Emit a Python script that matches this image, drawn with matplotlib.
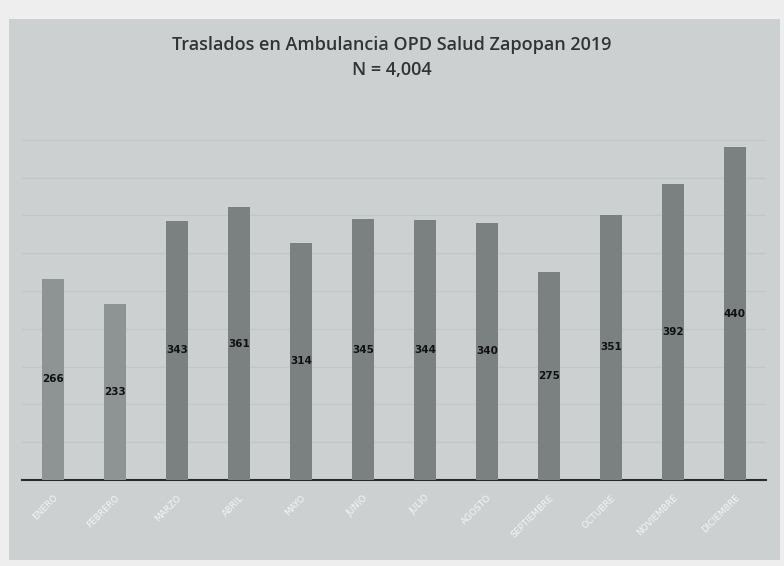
import matplotlib.pyplot as plt
from matplotlib.patches import Rectangle
import numpy as np

meses = ['ENERO', 'FEBRERO', 'MARZO', 'ABRIL', 'MAYO', 'JUNIO', 'JULIO',
         'AGOSTO', 'SEPTIEMBRE', 'OCTUBRE', 'NOVIEMBRE', 'DICIEMBRE']
traslados = [266, 233, 343, 361, 314, 345, 344, 340, 275, 351, 392, 440]

fig = plt.figure(figsize=(7.84, 5.66), dpi=100)
fig.patch.set_facecolor('#eeeeee')

# gray chart box
fig.patches.append(Rectangle((9 / 784, 1 - 560 / 566), 771 / 784, 541 / 566,
                             transform=fig.transFigure, facecolor='#cdd0d1',
                             edgecolor='none', zorder=-5))

ax = fig.add_axes([22 / 784, 1 - 480 / 566, 744 / 784, 378 / 566])
ax.set_facecolor('none')

x = np.arange(len(meses))
colores = ['#8e9393'] * 2 + ['#7b8080'] * 10
bars = ax.bar(x, traslados, width=0.36, color=colores, zorder=3)

for xi, v in zip(x, traslados):
    ax.text(xi, v / 2, str(v), ha='center', va='center', fontsize=7.5,
            fontweight='bold', color='#111111', zorder=4)

ax.set_xlim(-0.5, 11.5)
ax.set_ylim(0, 500)
ax.set_yticks(np.arange(50, 500, 50))
ax.yaxis.grid(True, color='#c3c6c7', linewidth=0.8, zorder=0)
ax.tick_params(axis='y', left=False, labelleft=False)
ax.tick_params(axis='x', bottom=False, pad=6)
ax.set_xticks(x)
ax.set_xticklabels(meses, rotation=45, ha='right', rotation_mode='anchor',
                   fontsize=6.5, color='#f4f4f4')
for s in ['top', 'right', 'left']:
    ax.spines[s].set_visible(False)
ax.spines['bottom'].set_color('#2a2a2a')
ax.spines['bottom'].set_linewidth(1.5)

fig.text(0.5, 1 - 45 / 566, 'Traslados en Ambulancia OPD Salud Zapopan 2019',
         ha='center', va='center', fontsize=13, family='Open Sans',
         fontweight='semibold', color='#333333')
fig.text(0.5, 1 - 70 / 566, 'N = 4,004', ha='center', va='center',
         fontsize=13, family='Open Sans', fontweight='semibold', color='#333333')

fig.savefig('out.png', dpi=100)
